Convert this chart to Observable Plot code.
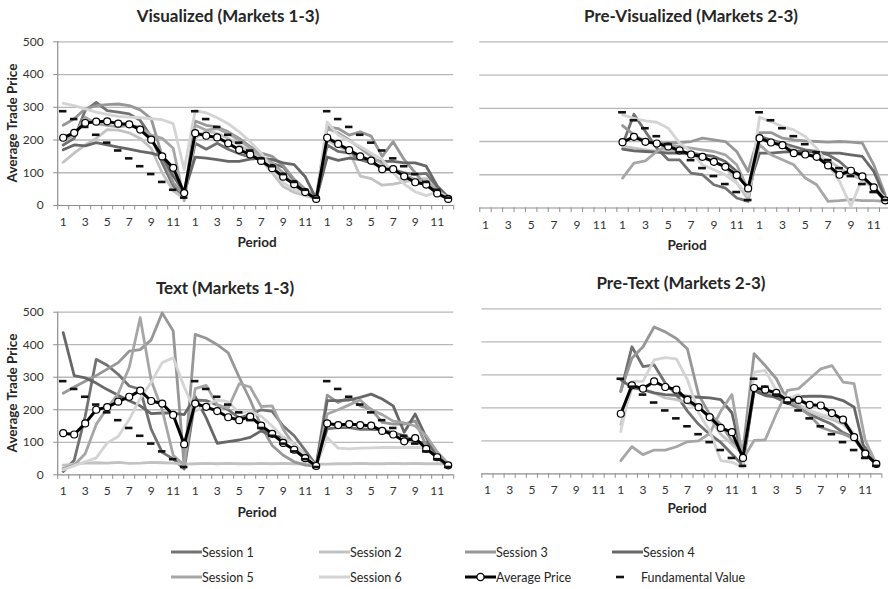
<!DOCTYPE html>
<html>
<head>
<meta charset="utf-8">
<script src="https://cdn.jsdelivr.net/npm/d3@7"></script>
<script src="https://cdn.jsdelivr.net/npm/@observablehq/plot@0.6"></script>
<style>
  html,body{margin:0;padding:0;background:#fff;}
  #chart{position:relative;width:888px;height:589px;overflow:hidden;background:#fff;font-family:Lato,"Open Sans",sans-serif;color:#262626;}
  .abs{position:absolute;}
  .ctr{transform:translate(-50%,-50%);white-space:nowrap;}
  .title{font-weight:700;font-size:17px;}
  .xlab{font-weight:700;font-size:13.5px;}
  .ylab{font-weight:700;font-size:13.5px;transform:translate(-50%,-50%) rotate(-90deg);white-space:nowrap;}
  .legtxt{font-size:12.5px;color:#262626;transform:translateY(-50%);white-space:nowrap;}
</style>
</head>
<body>
<div id="chart"></div>
<script>
const N = null;
const sessionNames = ["Session 1","Session 2","Session 3","Session 4","Session 5","Session 6"];
const sessionColors = ["#727272","#c2c2c2","#979797","#676767","#a6a6a6","#d4d4d4"];
const priceTicks = [0,100,200,300,400,500];
const periodTicks = [1,3,5,7,9,11];
const marketNumbers = [1,2,3];
const fundamentalValue = [288,264,240,216,192,168,144,120,96,72,48,24];

// Visualized (Markets 1-3)
const visAvg = [207,222,252,256,257,250,248,232,201,150,115,38, 221,213,208,190,170,156,136,114,88,65,41,20, 207,188,169,150,137,111,111,89,71,64,37,20];
const visS1 = [185,205,290,315,290,285,280,260,210,130,60,25, 190,172,190,172,158,148,140,128,118,75,45,22, 185,165,160,140,130,118,110,100,95,98,55,25];
const visS2 = [132,160,185,205,232,230,222,205,175,100,45,22, 205,228,220,205,185,165,140,100,58,40,30,20, 200,180,165,90,82,62,65,72,80,82,45,25];
const visS3 = [245,265,295,305,308,310,305,292,265,150,70,30, 258,245,240,225,205,180,160,150,122,80,50,25, 240,235,215,225,212,150,195,140,100,60,40,25];
const visS4 = [170,185,182,192,185,178,172,165,160,150,90,40, 148,145,140,135,135,142,145,140,130,125,88,20, 148,138,145,140,140,135,135,130,130,120,60,25];
const visS5 = [200,215,270,250,245,240,245,240,215,205,175,15, 245,230,235,220,200,175,150,130,100,60,40,18, 235,222,200,175,150,128,110,92,80,70,48,22];
const visS6 = [312,305,295,285,278,272,270,268,265,262,250,110, 290,283,268,250,225,195,160,110,70,48,35,22, 255,215,197,180,160,140,100,65,42,30,42,25];

// Pre-Visualized (Markets 2-3)
const pvAvg = [N,N,N,N,N,N,N,N,N,N,N,N, 198,214,199,194,185,173,161,154,139,124,99,59, 210,197,189,165,161,154,128,100,112,95,62,23];
const pvS1 = [N,N,N,N,N,N,N,N,N,N,N,N, 190,282,230,180,145,145,105,100,70,60,30,20, 215,205,195,185,175,170,160,140,110,90,60,20];
const pvS2 = [N,N,N,N,N,N,N,N,N,N,N,N, 185,180,175,170,175,165,160,150,140,125,75,25, 205,200,190,175,165,150,145,120,100,85,60,25];
const pvS3 = [N,N,N,N,N,N,N,N,N,N,N,N, 248,220,200,195,195,197,200,210,205,200,170,110, 227,227,210,205,202,200,198,200,198,195,130,40];
const pvS4 = [N,N,N,N,N,N,N,N,N,N,N,N, 177,172,170,168,165,165,165,160,155,140,110,60, 165,165,168,170,170,168,165,165,160,155,110,30];
const pvS5 = [N,N,N,N,N,N,N,N,N,N,N,N, 90,135,142,170,190,185,180,175,170,160,130,55, 190,160,145,130,90,70,20,22,25,22,22,20];
const pvS6 = [N,N,N,N,N,N,N,N,N,N,N,N, 280,270,262,258,240,195,170,130,115,100,75,40, 273,260,245,235,215,180,130,80,5,90,65,30];

// Text (Markets 1-3)
const txAvg = [128,124,158,200,208,225,240,259,227,219,184,94, 219,209,196,177,168,179,151,126,98,77,51,27, 158,153,156,153,151,135,124,103,113,80,54,29];
const txS1 = [10,45,180,355,337,309,273,263,140,69,49,18, 230,228,215,200,175,185,200,195,150,120,75,30, 141,145,145,140,140,138,130,120,100,100,60,30];
const txS2 = [30,33,36,37,36,38,35,36,38,37,36,33, 34,35,34,35,34,34,35,34,35,34,34,33, 33,34,34,35,34,34,35,34,35,34,34,33];
const txS3 = [251,270,288,305,325,345,380,385,415,498,442,25, 432,420,400,375,300,230,150,90,60,40,30,27, 245,222,238,212,202,161,156,156,166,90,60,35];
const txS4 = [437,305,298,282,262,245,228,212,188,190,190,185, 240,175,97,102,107,115,135,120,115,95,60,28, 228,228,230,238,248,233,212,131,187,115,54,23];
const txS5 = [20,30,65,155,205,250,330,483,290,200,60,30, 265,275,215,205,280,270,210,212,140,90,50,28, 187,200,215,230,200,185,165,160,150,120,70,35];
const txS6 = [15,28,40,52,98,118,170,235,285,345,360,270, 195,215,230,225,190,195,180,150,115,95,60,28, 115,82,80,82,83,84,84,84,84,84,50,30];

// Pre-Text (Markets 2-3)
const ptAvg = [N,N,N,N,N,N,N,N,N,N,N,N, 182,268,258,280,263,255,224,202,172,139,126,48, 260,255,245,222,224,209,207,184,164,111,61,30];
const ptS1 = [N,N,N,N,N,N,N,N,N,N,N,N, 250,385,325,330,275,240,190,150,120,95,60,25, 255,245,230,215,200,180,165,150,125,110,80,30];
const ptS2 = [N,N,N,N,N,N,N,N,N,N,N,N, 150,260,255,245,230,225,215,200,170,120,90,60, 260,250,240,225,210,190,175,165,150,120,70,28];
const ptS3 = [N,N,N,N,N,N,N,N,N,N,N,N, 250,350,385,445,430,410,378,240,180,150,100,70, 364,328,288,222,202,177,141,129,121,106,61,30];
const ptS4 = [N,N,N,N,N,N,N,N,N,N,N,N, 285,262,255,245,240,238,235,232,230,225,185,40, 252,237,232,227,234,235,235,232,222,202,61,28];
const ptS5 = [N,N,N,N,N,N,N,N,N,N,N,N, 40,82,58,72,72,82,97,100,122,190,240,45, 101,103,182,253,258,288,318,328,278,273,101,30];
const ptS6 = [N,N,N,N,N,N,N,N,N,N,N,N, 128,280,280,345,352,348,285,185,130,40,35,20, 308,313,253,227,240,192,180,170,165,120,60,30];

const chart = document.getElementById("chart");
const FONT = "Lato, 'Open Sans', sans-serif";

function addDiv(cls, text, x, y) {
  const d = document.createElement("div");
  d.className = "abs " + cls;
  d.textContent = text;
  d.style.left = x + "px";
  d.style.top = y + "px";
  chart.appendChild(d);
  return d;
}

function panel(o) {
  const boundaries = d3.range(37).map(i => i - 0.5);
  const labelPos = marketNumbers.flatMap(m => periodTicks.map(p => (m - 1) * 12 + p - 1));
  const avgRows = o.avg.map((v, k) => ({k, v})).filter(d => d.v != null);
  const fvRows = o.markets.flatMap(m => fundamentalValue.map((v, i) => ({k: (m - 1) * 12 + i, v})));
  const sessionMarks = o.sessions.map((vals, i) =>
    Plot.line(vals.map((v, k) => ({k, v})), {x: "k", y: "v", stroke: sessionColors[i], strokeWidth: 2.8, strokeLinejoin: "round"}));
  const marks = [
    Plot.ruleY(priceTicks.filter(t => t > 0), {stroke: "#b8b8b8", strokeWidth: 1.3}),
    Plot.ruleY([0], {stroke: "#8e8e8e", strokeWidth: 1.2}),
    Plot.axisX({ticks: boundaries, tickSize: 4.5, tickFormat: () => "", stroke: "#8e8e8e", label: null}),
    Plot.axisX({ticks: labelPos, tickSize: 0, tickPadding: 12, tickFormat: k => String(k % 12 + 1), fill: "#333", fontSize: 12, label: null}),
  ];
  if (o.yAxis) {
    marks.push(Plot.axisY({ticks: priceTicks, tickSize: 4, tickPadding: 10, stroke: "#8e8e8e", fill: "#333", fontSize: 12, label: null}));
    marks.push(Plot.ruleX([-0.5], {y1: 0, y2: 500, stroke: "#8e8e8e", strokeWidth: 1.2}));
  }
  marks.push(...sessionMarks);
  marks.push(Plot.line(avgRows, {x: "k", y: "v", stroke: "#000", strokeWidth: 3}));
  marks.push(Plot.dot(avgRows, {x: "k", y: "v", r: 3.5, fill: "#fff", stroke: "#000", strokeWidth: 1.2}));
  marks.push(Plot.ruleY(fvRows, {y: "v", x1: d => d.k - 0.34, x2: d => d.k + 0.34, stroke: "#111", strokeWidth: 2.6}));

  const svg = Plot.plot({
    width: o.width, height: o.height,
    marginLeft: o.mL, marginRight: o.mR, marginTop: o.mT, marginBottom: o.mB,
    style: {background: "transparent", overflow: "visible", fontFamily: FONT, fontSize: "12px", maxWidth: "none", position: "absolute", left: o.left + "px", top: o.top + "px"},
    x: {type: "linear", domain: [-0.5, 35.5]},
    y: {type: "linear", domain: [0, 500], axis: o.yAxis ? undefined : null},
    marks
  });
  chart.appendChild(svg);
}

panel({sessions: [visS1, visS2, visS3, visS4, visS5, visS6], avg: visAvg, markets: [1,2,3], yAxis: true,
  left: 0, top: 0, width: 460, height: 260, mL: 57.2, mR: 6.8, mT: 41.3, mB: 55});
panel({sessions: [pvS1, pvS2, pvS3, pvS4, pvS5, pvS6], avg: pvAvg, markets: [2,3], yAxis: false,
  left: 444, top: 0, width: 447, height: 260, mL: 35.3, mR: 0.6, mT: 41.3, mB: 52.5});
panel({sessions: [txS1, txS2, txS3, txS4, txS5, txS6], avg: txAvg, markets: [1,2,3], yAxis: true,
  left: 0, top: 260, width: 460, height: 265, mL: 57.2, mR: 6.8, mT: 51.7, mB: 50.7});
panel({sessions: [ptS1, ptS2, ptS3, ptS4, ptS5, ptS6], avg: ptAvg, markets: [2,3], yAxis: false,
  left: 444, top: 260, width: 444, height: 265, mL: 37.4, mR: 6.6, mT: 48.3, mB: 51.7});

// titles and axis labels
addDiv("ctr title", "Visualized (Markets 1-3)", 228, 15);
addDiv("ctr title", "Pre-Visualized (Markets 2-3)", 691, 15);
addDiv("ctr title", "Text (Markets 1-3)", 225, 287);
addDiv("ctr title", "Pre-Text (Markets 2-3)", 681, 282);
addDiv("ctr xlab", "Period", 257, 242);
addDiv("ctr xlab", "Period", 687, 245);
addDiv("ctr xlab", "Period", 257, 512);
addDiv("ctr xlab", "Period", 687, 508);
addDiv("ylab", "Average Trade Price", 12, 123);
addDiv("ylab", "Average Trade Price", 12, 393);

// legend
const legendItems = [
  {type: "line", color: sessionColors[0], label: sessionNames[0], x: 171, y: 552},
  {type: "line", color: sessionColors[1], label: sessionNames[1], x: 319, y: 552},
  {type: "line", color: sessionColors[2], label: sessionNames[2], x: 465, y: 552},
  {type: "line", color: sessionColors[3], label: sessionNames[3], x: 612, y: 552},
  {type: "line", color: sessionColors[4], label: sessionNames[4], x: 171, y: 577},
  {type: "line", color: sessionColors[5], label: sessionNames[5], x: 319, y: 577},
  {type: "avg", color: "#000", label: "Average Price", x: 465, y: 577},
  {type: "fv", color: "#111", label: "Fundamental Value", x: 612, y: 577}
];
const ns = "http://www.w3.org/2000/svg";
legendItems.forEach(it => {
  const s = document.createElementNS(ns, "svg");
  s.setAttribute("width", 31); s.setAttribute("height", 10);
  s.style.position = "absolute"; s.style.left = it.x + "px"; s.style.top = (it.y - 5) + "px";
  if (it.type === "fv") {
    const l = document.createElementNS(ns, "line");
    l.setAttribute("x1", 4); l.setAttribute("x2", 12); l.setAttribute("y1", 5); l.setAttribute("y2", 5);
    l.setAttribute("stroke", it.color); l.setAttribute("stroke-width", 2.6);
    s.appendChild(l);
  } else {
    const l = document.createElementNS(ns, "line");
    l.setAttribute("x1", 0); l.setAttribute("x2", 31); l.setAttribute("y1", 5); l.setAttribute("y2", 5);
    l.setAttribute("stroke", it.color); l.setAttribute("stroke-width", 3);
    s.appendChild(l);
    if (it.type === "avg") {
      const c = document.createElementNS(ns, "circle");
      c.setAttribute("cx", 15.5); c.setAttribute("cy", 5); c.setAttribute("r", 3.6);
      c.setAttribute("fill", "#fff"); c.setAttribute("stroke", "#000"); c.setAttribute("stroke-width", 1.3);
      s.appendChild(c);
    }
  }
  chart.appendChild(s);
  addDiv("legtxt", it.label, it.x + (it.type === "fv" ? 29 : 31), it.y);
});
</script>
</body>
</html>
